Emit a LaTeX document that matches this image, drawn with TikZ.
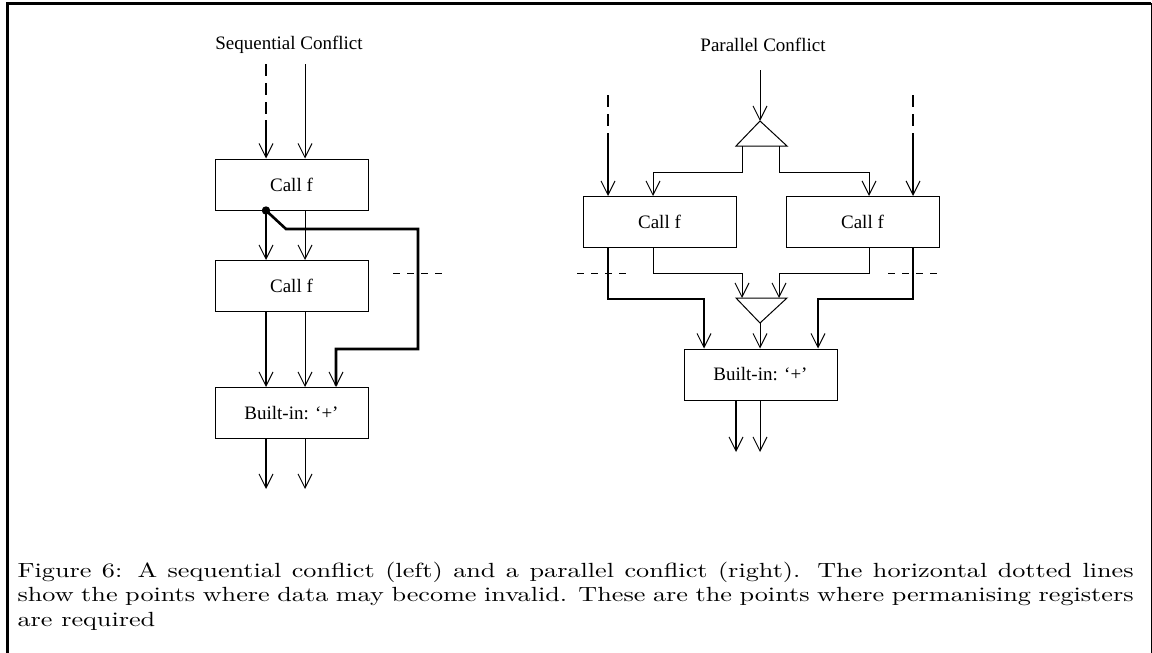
\documentclass[tikz,border=0pt]{standalone}
\usepackage{fontspec}
\newfontfamily\diagfont{Liberation Serif}
\usetikzlibrary{arrows.meta}
\begin{document}
\begin{tikzpicture}[x=1pt,y=-1pt,
  thinline/.style={line width=1pt},
  thickline/.style={line width=2.6pt},
  arr/.style={-{Straight Barb[length=14pt,width=14pt,line width'=1pt]}},
  dashin/.style={thickline,dash pattern=on 12pt off 7pt},
  cutline/.style={line width=1pt,dash pattern=on 7pt off 7pt},
  blk/.style={draw,line width=1pt,minimum width=153pt,minimum height=51pt,
    inner sep=0pt,font=\diagfont\fontsize{19}{22}\selectfont},
  title/.style={font=\diagfont\fontsize{19}{22}\selectfont,inner sep=0pt}]
\useasboundingbox (0,0) rectangle (1152,653);
% frame
\draw[line width=3pt] (7,653) -- (7,3) -- (1151,3);
\draw[line width=1pt] (1151,3) -- (1151,653);

% ---------- sequential conflict ----------
\node[title] (stitle) at (289,45) {Sequential Conflict};
\node[blk] (s1) at (291.5,184.5) {Call f};
\node[blk] (s2) at (291.5,286) {Call f};
\node[blk] (s3) at (291.5,413) {Built-in: ‘+’};
\coordinate (sa0) at (266,64);
\coordinate (sa1) at (266,120);
\coordinate (sb0) at (305,64);
\coordinate (sout) at (0,489);
\draw[dashin] (sa0) -- (sa1);
\draw[thickline,arr] (sa1) -- (sa1 |- s1.north);
\draw[thinline,arr] (sb0) -- (sb0 |- s1.north);
\coordinate (dot) at (sa0 |- s1.south);
\draw[thickline,arr] (dot) -- (dot |- s2.north);
\draw[thinline,arr] (sb0 |- s1.south) -- (sb0 |- s2.north);
\draw[thickline,arr,line join=miter] (dot) -- (286,229) -- (418,229) -- (418,349) -- (336,349) -- (336,0 |- s3.north);
\fill (dot) circle (4.2);
\draw[thickline,arr] (sa0 |- s2.south) -- (sa0 |- s3.north);
\draw[thinline,arr] (sb0 |- s2.south) -- (sb0 |- s3.north);
\draw[thickline,arr] (sa0 |- s3.south) -- (sa0 |- sout);
\draw[thinline,arr] (sb0 |- s3.south) -- (sb0 |- sout);
\draw[cutline] (393,273) -- (447,273);

% ---------- parallel conflict ----------
\node[title] (ptitle) at (763,45) {Parallel Conflict};
\node[blk] (pl) at (659.5,222) {Call f};
\node[blk] (pr) at (862.5,222) {Call f};
\node[blk] (pb) at (760.5,374.5) {Built-in: ‘+’};
% fork and join triangles
\coordinate (fork) at (760,121);
\coordinate (join) at (760,323);
\draw[thinline,line join=miter] (fork) -- (787,146) -- (736,146) -- cycle;
\draw[thinline,line join=miter] (join) -- (787,298) -- (736,298) -- cycle;
\coordinate (pin) at (760,70);
\draw[thinline,arr] (pin) -- (fork);
\draw[thinline,arr] (742,146) |- (653,172) -- (653,0 |- pl.north);
\draw[thinline,arr] (779,146) |- (869,172) -- (869,0 |- pr.north);
% external inputs
\coordinate (pla0) at (608,95);
\coordinate (pla1) at (608,137);
\coordinate (pra0) at (913,95);
\coordinate (pra1) at (913,137);
\draw[dashin] (pla0) -- (pla1);
\draw[thickline,arr] (pla1) -- (pla1 |- pl.north);
\draw[dashin] (pra0) -- (pra1);
\draw[thickline,arr] (pra1) -- (pra1 |- pr.north);
% outputs of the calls
\draw[thickline,arr,line join=miter] (pla0 |- pl.south) |- (704,299) -- (704,0 |- pb.north);
\draw[thinline,arr] (653,0 |- pl.south) |- (742,273) -- (742,298);
\draw[thinline,arr] (869,0 |- pr.south) |- (779,273) -- (779,298);
\draw[thickline,arr,line join=miter] (pra0 |- pr.south) |- (818,299) -- (818,0 |- pb.north);
\draw[thinline,arr] (join) -- (join |- pb.north);
\coordinate (pout) at (0,452);
\draw[thickline,arr] (736,0 |- pb.south) -- (736,0 |- pout);
\draw[thinline,arr] (760,0 |- pb.south) -- (760,0 |- pout);
\draw[cutline] (577,273) -- (631,273);
\draw[cutline] (888,273) -- (942,273);

% ---------- caption ----------
\node[anchor=base west,inner sep=0pt,xscale=2.62,yscale=2.05,text width=426pt,align=justify] (cap) at (17,577)
  {\fontsize{10}{12}\selectfont
   Figure 6: A sequential conflict (left) and a parallel conflict (right). The horizontal dotted lines\linebreak
   show the points where data may become invalid. These are the points where permanising registers\linebreak
   are required\par};
\end{tikzpicture}
\end{document}
